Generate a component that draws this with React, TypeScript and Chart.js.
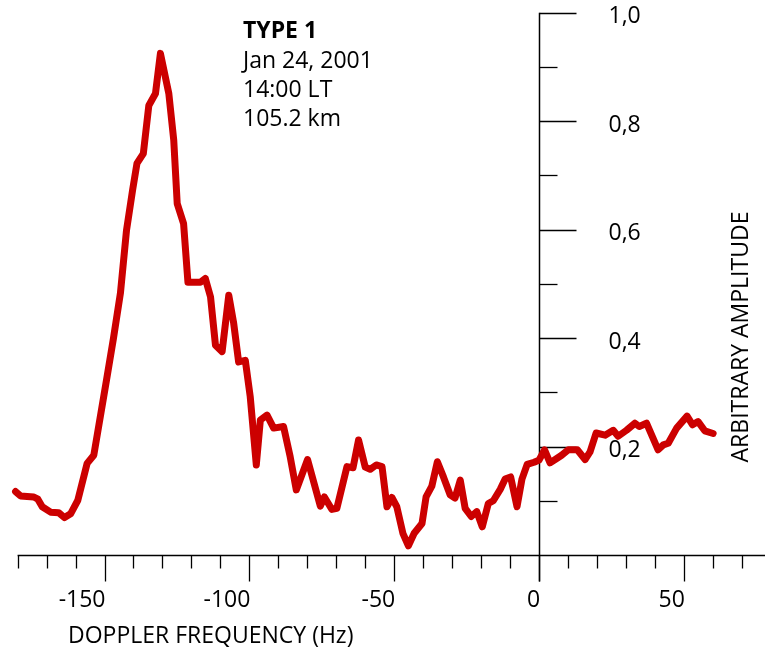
import React, { useEffect, useRef } from 'react';
import { Chart, registerables } from 'chart.js';

Chart.register(...registerables);

// Doppler spectrum
const freqHz = [
  -180.7, -179.0, -174.4, -173.0, -171.5, -168.6, -165.8, -163.8, -161.7, -159.2,
  -156.0, -153.7, -149.3, -146.9, -144.5, -142.4, -140.3, -138.8, -136.6, -134.7,
  -132.4, -130.7, -127.8, -126.1, -124.9, -122.7, -121.2, -116.9, -115.2, -113.4,
  -111.7, -109.4, -107.1, -105.4, -103.7, -101.4, -99.7, -97.6, -96.2, -93.9,
  -91.6, -88.2, -85.9, -83.8, -79.9, -75.5, -74.1, -71.5, -69.8, -66.3,
  -64.2, -62.3, -60.0, -58.3, -56.2, -54.2, -52.5, -50.8, -49.1, -47.0,
  -45.1, -43.1, -40.4, -39.0, -37.0, -35.1, -33.0, -30.7, -29.0, -27.2,
  -25.5, -23.4, -21.5, -19.6, -17.5, -15.8, -13.4, -11.7, -9.8, -7.6,
  -5.9, -4.1, -1.7, 0.0, 1.9, 3.8, 6.1, 7.8, 10.1, 13.2,
  15.9, 17.6, 19.7, 22.8, 25.6, 27.3, 30.2, 33.1, 34.6, 37.1,
  41.1, 42.9, 44.6, 47.5, 51.1, 53.0, 54.9, 57.2, 60.1,
];
const amplitude = [
  0.117, 0.109, 0.107, 0.103, 0.089, 0.079, 0.078, 0.069, 0.076, 0.101,
  0.169, 0.184, 0.323, 0.400, 0.483, 0.599, 0.673, 0.722, 0.740, 0.829,
  0.851, 0.925, 0.851, 0.765, 0.648, 0.611, 0.503, 0.503, 0.510, 0.476,
  0.387, 0.375, 0.479, 0.427, 0.356, 0.359, 0.292, 0.166, 0.249, 0.258,
  0.234, 0.237, 0.181, 0.120, 0.176, 0.090, 0.107, 0.084, 0.086, 0.163,
  0.161, 0.212, 0.162, 0.158, 0.166, 0.163, 0.089, 0.106, 0.089, 0.040,
  0.017, 0.040, 0.058, 0.107, 0.127, 0.172, 0.144, 0.111, 0.105, 0.138,
  0.086, 0.071, 0.080, 0.052, 0.095, 0.100, 0.121, 0.140, 0.144, 0.089,
  0.140, 0.167, 0.171, 0.175, 0.194, 0.170, 0.178, 0.184, 0.194, 0.194,
  0.176, 0.190, 0.225, 0.221, 0.230, 0.219, 0.230, 0.243, 0.237, 0.243,
  0.194, 0.203, 0.206, 0.234, 0.256, 0.240, 0.246, 0.229, 0.224,
];

const xMajorTicks = [-150, -100, -50, 0, 50];
const xTickLabels = ['-150', '-100', '-50', '0', '50'];
const xMinorTicks = [-180, -170, -160, -140, -130, -120, -110, -90, -80, -70, -60, -40, -30, -20, -10, 10, 20, 30, 40, 60, 70];
const yMajorTicks = [0.2, 0.4, 0.6, 0.8, 1.0];
const yTickLabels = ['0,2', '0,4', '0,6', '0,8', '1,0'];
const yMinorTicks = [0.1, 0.3, 0.5, 0.7, 0.9];
const annotationLines = ['TYPE 1', 'Jan 24, 2001', '14:00 LT', '105.2 km'];
const xTitle = 'DOPPLER FREQUENCY (Hz)';
const yTitle = 'ARBITRARY AMPLITUDE';

const FONT = '"Open Sans", "Noto Sans", sans-serif';

const axesPlugin = {
  id: 'crossAxes',
  beforeDatasetsDraw(chart: any) {
    const { ctx, scales } = chart;
    const xs = scales.x;
    const ys = scales.y;
    const x0 = Math.round(xs.getPixelForValue(0)) + 0.5;
    const y0 = Math.round(ys.getPixelForValue(0)) + 0.5;
    ctx.save();
    ctx.strokeStyle = '#000';
    ctx.fillStyle = '#000';
    ctx.lineWidth = 1.5;
    // x axis line
    ctx.beginPath();
    ctx.moveTo(xs.left, y0);
    ctx.lineTo(chart.width, y0);
    ctx.stroke();
    // y axis line
    ctx.beginPath();
    ctx.moveTo(x0, ys.getPixelForValue(1.0));
    ctx.lineTo(x0, y0 + 26);
    ctx.stroke();
    ctx.lineWidth = 1.3;
    // x ticks
    xMinorTicks.forEach((v) => {
      const px = Math.round(xs.getPixelForValue(v)) + 0.5;
      ctx.beginPath();
      ctx.moveTo(px, y0);
      ctx.lineTo(px, y0 + 13);
      ctx.stroke();
    });
    xMajorTicks.forEach((v) => {
      const px = Math.round(xs.getPixelForValue(v)) + 0.5;
      ctx.beginPath();
      ctx.moveTo(px, y0);
      ctx.lineTo(px, y0 + 26);
      ctx.stroke();
    });
    // y ticks
    yMinorTicks.forEach((v) => {
      const py = Math.round(ys.getPixelForValue(v)) + 0.5;
      ctx.beginPath();
      ctx.moveTo(x0, py);
      ctx.lineTo(x0 + 18, py);
      ctx.stroke();
    });
    yMajorTicks.forEach((v) => {
      const py = Math.round(ys.getPixelForValue(v)) + 0.5;
      ctx.beginPath();
      ctx.moveTo(x0, py);
      ctx.lineTo(x0 + 37, py);
      ctx.stroke();
    });
    // tick labels
    ctx.font = `23px ${FONT}`;
    ctx.textBaseline = 'middle';
    ctx.textAlign = 'right';
    xMajorTicks.forEach((v, i) => {
      ctx.fillText(xTickLabels[i], xs.getPixelForValue(v) + 1, y0 + 45);
    });
    ctx.textAlign = 'left';
    yMajorTicks.forEach((v, i) => {
      ctx.fillText(yTickLabels[i], x0 + 69, ys.getPixelForValue(v) + 4);
    });
    // axis titles
    ctx.textAlign = 'left';
    ctx.fillText(xTitle, 68, 636);
    ctx.save();
    ctx.translate(741, 337);
    ctx.rotate(-Math.PI / 2);
    ctx.textAlign = 'center';
    ctx.fillText(yTitle, 0, 0);
    ctx.restore();
    // annotation
    ctx.textBaseline = 'alphabetic';
    const baselines = [38, 68, 97, 126];
    annotationLines.forEach((t, i) => {
      ctx.font = i === 0 ? `bold 23px ${FONT}` : `23px ${FONT}`;
      ctx.fillText(t, 243, baselines[i]);
    });
    ctx.restore();
  },
};

export default function App() {
  const canvasRef = useRef<HTMLCanvasElement | null>(null);

  useEffect(() => {
    if (!canvasRef.current) return;
    const chart = new Chart(canvasRef.current, {
      type: 'line',
      data: {
        datasets: [
          {
            data: freqHz.map((f, i) => ({ x: f, y: amplitude[i] })),
            borderColor: '#CC0000',
            borderWidth: 7,
            pointRadius: 0,
            tension: 0,
            borderJoinStyle: 'round',
            borderCapStyle: 'round',
            clip: false,
          } as any,
        ],
      },
      options: {
        animation: false,
        responsive: true,
        maintainAspectRatio: false,
        layout: { padding: { left: 17.6, right: 0, top: 12.7, bottom: 94 } },
        plugins: { legend: { display: false }, tooltip: { enabled: false } },
        scales: {
          x: { type: 'linear', min: -180, max: 78, display: false },
          y: { type: 'linear', min: 0, max: 1.0, display: false },
        },
      },
      plugins: [axesPlugin],
    });
    let alive = true;
    if ((document as any).fonts && (document as any).fonts.ready) {
      (document as any).fonts.ready.then(() => { if (alive) chart.draw(); });
    }
    return () => { alive = false; chart.destroy(); };
  }, []);

  return (
    <div style={{ position: 'fixed', left: 0, top: 0, width: 765, height: 649, background: '#fff' }}>
      <canvas ref={canvasRef} />
    </div>
  );
}
